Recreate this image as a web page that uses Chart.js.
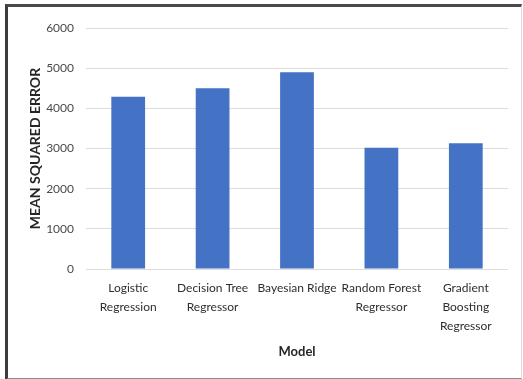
<!DOCTYPE html>
<html>
<head>
<meta charset="utf-8">
<script src="https://cdn.jsdelivr.net/npm/chart.js@4/dist/chart.umd.min.js"></script>
<style>
  html, body { margin: 0; padding: 0; background: #fff; }
  #wrap { position: relative; width: 523px; height: 379px; }
  #chart { position: absolute; left: 0; top: 0; }
  #frame {
    position: absolute; left: 5px; top: 4px; width: 513px; height: 371px;
    border-top: 3px solid #4a4a4a; border-left: 3px solid #3c3c3c;
    border-bottom: 2px solid #8a8a8a; border-right: 1px solid #dedede;
    pointer-events: none;
  }
</style>
</head>
<body>
<div id="wrap">
  <canvas id="chart" width="523" height="379"></canvas>
  <div id="frame"></div>
</div>
<script>
// Models compared and their mean squared error
const models = [
  ['Logistic', 'Regression'],
  ['Decision Tree', 'Regressor'],
  ['Bayesian Ridge'],
  ['Random Forest', 'Regressor'],
  ['Gradient', 'Boosting', 'Regressor']
];
const mseValues = [4290, 4500, 4900, 3020, 3130];
const yTicks = [0, 1000, 2000, 3000, 4000, 5000, 6000];

const fontFamily = 'Lato, "Liberation Sans", Arial, sans-serif';

new Chart(document.getElementById('chart'), {
  type: 'bar',
  data: {
    labels: models,
    datasets: [{
      label: 'Mean Squared Error',
      data: mseValues,
      backgroundColor: '#4472C4',
      borderWidth: 0,
      barPercentage: 0.40,
      categoryPercentage: 1.0
    }]
  },
  options: {
    responsive: false,
    animation: false,
    layout: { padding: { left: 0, right: 15, top: 28, bottom: 0 } },
    plugins: {
      legend: { display: false },
      tooltip: { enabled: false }
    },
    scales: {
      x: {
        grid: { display: false, drawTicks: false },
        border: { display: false },
        ticks: {
          padding: 9,
          color: '#2e2e2e',
          font: { family: fontFamily, size: 12, lineHeight: 1.62 },
          maxRotation: 0,
          autoSkip: false
        },
        title: {
          display: true,
          text: 'Model',
          color: '#262626',
          font: { family: fontFamily, size: 13, weight: 'bold', lineHeight: 1.2 },
          padding: { top: 0, bottom: 19 }
        },
        afterFit: (scale) => { scale.height = 110; }
      },
      y: {
        min: 0,
        max: 6000,
        afterBuildTicks: (scale) => { scale.ticks = yTicks.map(v => ({ value: v })); },
        grid: { color: '#dcdcdc', lineWidth: 1, drawTicks: false },
        border: { display: false },
        ticks: {
          padding: 12,
          color: '#4a4a4a',
          font: { family: fontFamily, size: 12 },
          callback: (value) => String(value)
        },
        title: {
          display: true,
          text: 'MEAN SQUARED ERROR',
          color: '#262626',
          font: { family: fontFamily, size: 14, weight: 'bold', lineHeight: 1.2 },
          padding: { top: 27, bottom: 0 }
        },
        afterFit: (scale) => { scale.width = 86; }
      }
    }
  }
});
</script>
</body>
</html>
